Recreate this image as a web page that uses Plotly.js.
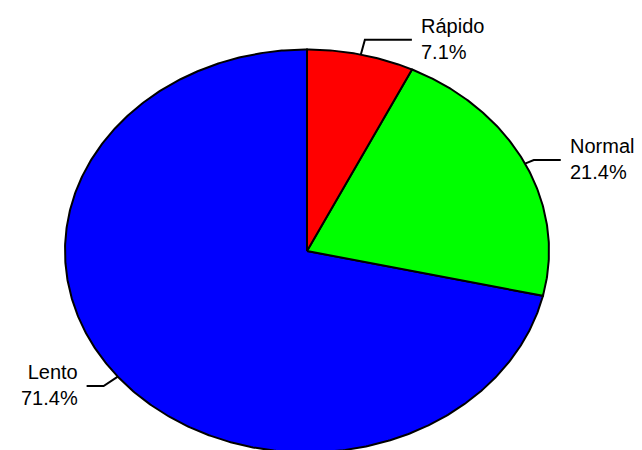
<!DOCTYPE html>
<html>
<head>
<meta charset="utf-8">
<script src="https://cdn.plot.ly/plotly-3.0.1.min.js"></script>
<style>html,body{margin:0;padding:0;background:#fff;}#chart{width:642px;height:450px;}</style>
</head>
<body>
<div id="chart"></div>
<script>
// ---- data ----
const labels = ['Rápido', 'Normal', 'Lento'];
const counts = [1, 3, 10];
const colors = ['#ff0000', '#00ff00', '#0000ff'];

// ---- style ----
const W = 642, H = 450;
const CX = 307, CY = 251, RX = 242, RY = 201.5;   // ellipse in pixels
const leaderLen = [47, 27, 17];                    // horizontal leader length (px)
const elbowFactor = [1.075, 1.04, 1.075];
const textGap = 7;

const total = counts.reduce((a, b) => a + b, 0);
const traces = [];
const annotations = [];
let cum = 0;
const sectors = [];
counts.forEach((v, i) => {
  const f0 = cum / total, f1 = (cum + v) / total;
  cum += v;
  sectors.push({ i, f0, f1 });
});
// draw largest first so boundaries of small slices sit on top
const order = sectors.slice().sort((a, b) => (b.f1 - b.f0) - (a.f1 - a.f0));
order.forEach(s => {
  const xs = [0], ys = [0];
  const n = Math.max(8, Math.round((s.f1 - s.f0) * 720));
  for (let k = 0; k <= n; k++) {
    const f = s.f0 + (s.f1 - s.f0) * k / n;
    const t = Math.PI / 2 - 2 * Math.PI * f;
    xs.push(Math.cos(t)); ys.push(Math.sin(t));
  }
  xs.push(0); ys.push(0);
  traces.push({
    type: 'scatter', mode: 'lines', x: xs, y: ys, fill: 'toself',
    fillcolor: colors[s.i], line: { color: '#000', width: 2 },
    hoverinfo: 'skip', showlegend: false
  });
});

sectors.forEach(s => {
  const fm = (s.f0 + s.f1) / 2;
  const t = Math.PI / 2 - 2 * Math.PI * fm;
  const ex = Math.cos(t), ey = Math.sin(t);
  const bx = ex * elbowFactor[s.i], by = ey * elbowFactor[s.i];
  const dir = ex >= 0 ? 1 : -1;
  const endx = bx + dir * leaderLen[s.i] / RX;
  traces.push({
    type: 'scatter', mode: 'lines', x: [ex, bx, endx], y: [ey, by, by],
    line: { color: '#000', width: 2 }, hoverinfo: 'skip', showlegend: false
  });
  const pct = (counts[s.i] / total * 100).toFixed(1) + '%';
  annotations.push({
    x: endx, y: by, xref: 'x', yref: 'y', showarrow: false,
    xanchor: dir > 0 ? 'left' : 'right', yanchor: 'middle',
    xshift: dir * textGap, yshift: 1,
    align: dir > 0 ? 'left' : 'right',
    text: labels[s.i] + '<br>' + pct,
    font: { family: 'Liberation Sans, Arial, sans-serif', size: 20, color: '#000' }
  });
});

const layout = {
  width: W, height: H,
  margin: { l: 0, r: 0, t: 0, b: 0, pad: 0 },
  paper_bgcolor: '#fff', plot_bgcolor: '#fff',
  showlegend: false,
  xaxis: { range: [-CX / RX, (W - CX) / RX], visible: false, fixedrange: true },
  yaxis: { range: [-(H - CY) / RY, CY / RY], visible: false, fixedrange: true },
  annotations: annotations
};
Plotly.newPlot('chart', traces, layout, { displayModeBar: false, staticPlot: true });
</script>
</body>
</html>
